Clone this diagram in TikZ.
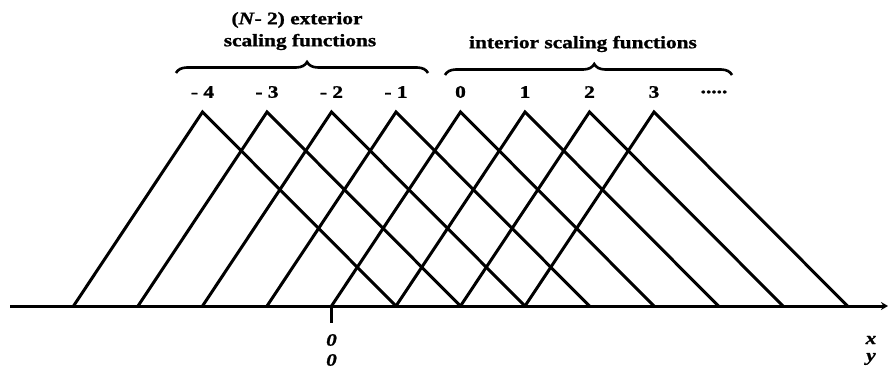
\documentclass[tikz,border=0pt]{standalone}
\usepackage{fontspec}
\setmainfont{Liberation Serif}
\newfontfamily\labfont[FakeStretch=1.22,BoldFeatures={FakeBold=1.2},BoldItalicFeatures={FakeBold=1.2}]{Liberation Serif}
\usetikzlibrary{decorations.pathreplacing,arrows.meta}
\begin{document}
\begin{tikzpicture}[x=1pt,y=-1pt,
  fn/.style={line width=3pt,line join=miter},
  axisline/.style={line width=3pt},
  lab/.style={font=\labfont\bfseries\fontsize{17.5}{20}\selectfont,inner sep=0pt},
  ilab/.style={font=\labfont\bfseries\itshape\fontsize{17.5}{20}\selectfont,inner sep=0pt},
  br/.style={decorate,decoration={brace,amplitude=11pt,aspect=0.52},line width=2.6pt}]
\useasboundingbox (0,0) rectangle (888,371);
\def\xo{331.5}\def\s{64.5}\def\ay{306}\def\py{112}
% axis
\coordinate (axL) at (10,\ay);
\coordinate (axR) at (888,\ay);
\draw[axisline,-{Stealth[length=7pt,width=8pt]}] (axL) -- (axR);
% tick
\coordinate (tk1) at (\xo,\ay);
\coordinate (tk2) at (\xo,323);
\draw[axisline] (tk1) -- (tk2);
% triangles
\foreach \k in {-4,...,3}{
  \coordinate (L\k) at ({\xo+\k*\s},\ay);
  \coordinate (P\k) at ({\xo+(\k+2)*\s},\py);
  \coordinate (R\k) at ({\xo+(\k+5)*\s},\ay);
  \draw[fn] (L\k) -- (P\k) -- (R\k);
}
% index labels
\node[lab] (nm4) at ({\xo-2*\s},92) {- 4};
\node[lab] (nm3) at ({\xo-1*\s},92) {- 3};
\node[lab] (nm2) at ({\xo},92) {- 2};
\node[lab] (nm1) at ({\xo+1*\s},92) {- 1};
\node[lab] (n0) at ({\xo+2*\s},92) {0};
\node[lab] (n1) at ({\xo+3*\s},92) {1};
\node[lab] (n2) at ({\xo+4*\s},92) {2};
\node[lab] (n3) at ({\xo+5*\s},92) {3};
\node[lab] (ndots) at (714,92) {.....};
% braces
\coordinate (b1a) at (176,73);
\coordinate (b1b) at (428,73);
\draw[br] (b1a) -- (b1b);
\coordinate (b2a) at (445,75);
\coordinate (b2b) at (732,75);
\draw[br] (b2a) -- (b2b);
% headings
\node[lab] (ext1) at (297,20) {(\textit{N}- 2) exterior};
\node[lab] (ext2) at (300,42) {scaling functions};
\node[lab] (int) at (583,44) {interior scaling functions};
% axis labels
\node[ilab] (z1) at (\xo,340) {0};
\node[ilab] (z2) at (\xo,360) {0};
\node[ilab] (xl) at (871,340) {x};
\node[ilab] (yl) at (871,359) {y};
\end{tikzpicture}
\end{document}
